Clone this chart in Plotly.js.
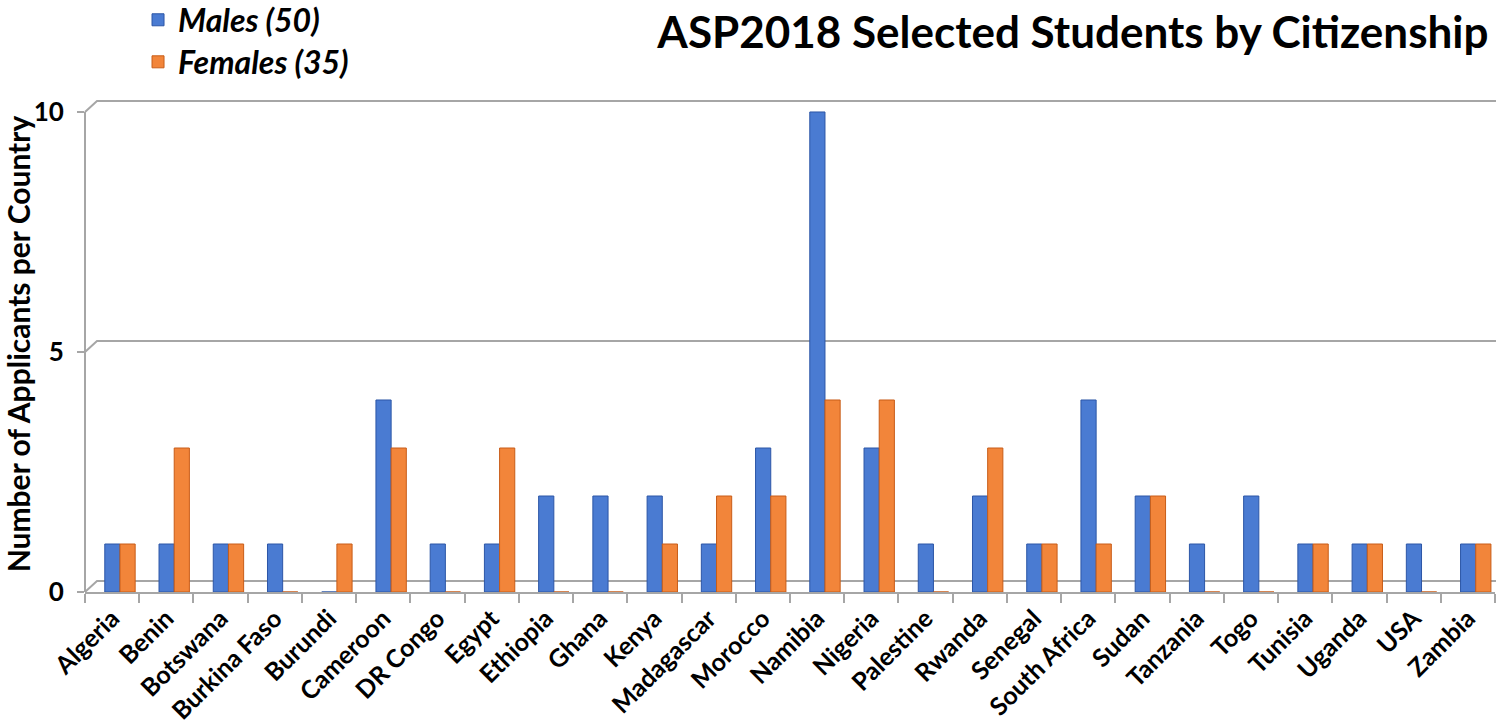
<!DOCTYPE html>
<html><head><meta charset="utf-8">
<script src="https://cdn.plot.ly/plotly-3.0.1.min.js"></script>
<style>html,body{margin:0;padding:0;background:#fff}#chart{width:1496px;height:727px}</style>
</head><body><div id="chart"></div>
<script>
const countries = ["Algeria","Benin","Botswana","Burkina Faso","Burundi","Cameroon","DR Congo","Egypt","Ethiopia","Ghana","Kenya","Madagascar","Morocco","Namibia","Nigeria","Palestine","Rwanda","Senegal","South Africa","Sudan","Tanzania","Togo","Tunisia","Uganda","USA","Zambia"];
const males   = [1,1,1,1,0,4,1,1,2,2,2,1,3,10,3,1,2,1,4,2,1,2,1,1,1,1];
const females = [1,3,1,0,1,3,0,3,0,0,1,2,2,4,4,0,3,1,1,2,0,0,1,1,0,1];
const gridValues = [0,5,10];
const seriesNames = ["Males (50)","Females (35)"];
const titleText = "ASP2018 Selected Students by Citizenship";
const yTitle = "Number of Applicants per Country";

const FONT = "Lato, Open Sans, sans-serif";
const GRID = "#a6a6a6";
const BAR_W = 0.28, DEPTH_SHIFT = 0.145;
const traces = [
  {type:"bar", name:seriesNames[0], x:countries, y:males, legend:"legend",
   width:BAR_W, offset:-BAR_W + DEPTH_SHIFT,
   marker:{color:"#4a7bd2", line:{color:"#2c56a6", width:1}}},
  {type:"bar", name:seriesNames[1], x:countries, y:females, legend:"legend2",
   width:BAR_W, offset:DEPTH_SHIFT,
   marker:{color:"#f2853a", line:{color:"#c85d18", width:1}}}
];
const shapes = [];
gridValues.forEach(v => {
  // back-wall gridline with a short diagonal joining the front axis
  shapes.push({type:"path", xref:"paper", yref:"y", xsizemode:"pixel", xanchor:0,
    ysizemode:"pixel", yanchor:v, path:"M0,0 L12,11 L1420,11",
    line:{color:GRID, width:2}, layer:"below"});
});
// front-left vertical axis edge, from 0 to the top value
shapes.push({type:"line", xref:"paper", yref:"y", x0:0, x1:0, y0:0, y1:gridValues[gridValues.length-1],
  line:{color:GRID, width:2}, layer:"below"});

const legendFont = {family:FONT, size:32, weight:"bold", style:"italic", color:"#000"};
const layout = {
  width:1496, height:727,
  margin:{l:85, r:1, t:96, b:135, autoexpand:false},
  paper_bgcolor:"#fff", plot_bgcolor:"#fff",
  font:{family:FONT, color:"#000"},
  title:{text:titleText, x:0.995, xanchor:"right", y:0.955, yanchor:"middle",
    font:{family:FONT, size:44, weight:"bold", color:"#000"}},
  barmode:"group",
  showlegend:true,
  legend:{x:0.0376, xanchor:"left", yref:"container", y:0.9725, yanchor:"middle", font:legendFont, bgcolor:"rgba(0,0,0,0)"},
  legend2:{x:0.0376, xanchor:"left", yref:"container", y:0.9147, yanchor:"middle", font:legendFont, bgcolor:"rgba(0,0,0,0)"},
  xaxis:{type:"category", tickangle:-45, ticks:"outside", tickson:"boundaries", ticklen:9,
    tickcolor:GRID, tickwidth:2, showline:true, linecolor:GRID, linewidth:2, automargin:false,
    tickfont:{family:FONT, size:25, weight:"bold"}, showgrid:false, zeroline:false,
    range:[-0.5, 25.5]},
  yaxis:{range:[0,10.333], tickvals:gridValues, ticks:"outside", ticklen:7, tickcolor:GRID, tickwidth:2,
    showline:false, showgrid:false, zeroline:false, ticklabelstandoff:8, automargin:false,
    tickfont:{family:FONT, size:26, weight:"bold"},
    title:{text:yTitle, standoff:0, font:{family:FONT, size:30, weight:"bold"}}},
  shapes:shapes
};
Plotly.newPlot("chart", traces, layout, {displayModeBar:false});
</script></body></html>
